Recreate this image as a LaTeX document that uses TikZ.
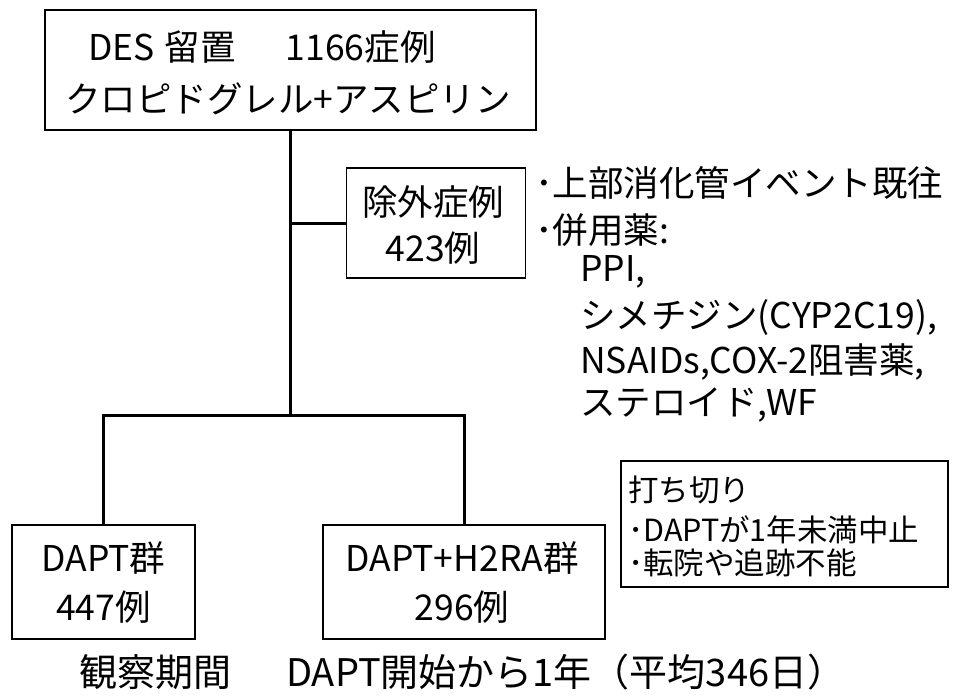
\documentclass[tikz,border=0pt]{standalone}
\usepackage{fontspec}
\setmainfont{Noto Sans CJK JP}
\begin{document}
\begin{tikzpicture}[x=1pt,y=-1pt,
  box/.style={draw,line width=1.4pt,inner sep=0pt},
  conn/.style={line width=3pt},
  txt/.style={inner sep=0pt,font=\fontsize{35.5}{40}\selectfont},
  smalltxt/.style={inner sep=0pt,font=\fontsize{30.5}{34}\selectfont},
  bigtxt/.style={inner sep=0pt,font=\fontsize{38}{44}\selectfont}]
\useasboundingbox (0,0) rectangle (953,697);
% boxes
\node[box,minimum width=491pt,minimum height=120pt] (top) at (290.5,70) {};
\node[box,minimum width=179pt,minimum height=110pt] (excl) at (436,223) {};
\node[box,minimum width=183pt,minimum height=114pt] (dapt) at (103.5,582) {};
\node[box,minimum width=282pt,minimum height=114pt] (h2ra) at (464,582) {};
\node[box,minimum width=327pt,minimum height=126pt] (cens) at (784.5,524) {};
% box texts
\node[txt] (t1) at (262,47) {DES\hspace{10pt}留置\hspace{50pt}1166症例};
\node[txt] (t2) at (288,99) {クロピドグレル+アスピリン};
\node[txt] (e1) at (433,202) {除外症例};
\node[txt] (e2) at (433,248) {423例};
\node[txt] (d1) at (103.5,558) {DAPT群};
\node[txt] (d2) at (103.5,607) {447例};
\node[txt] (h1) at (462,558) {DAPT+H2RA群};
\node[txt] (h2) at (462,607) {296例};
\node[smalltxt,anchor=west] (c1) at (628,490) {打ち切り};
\node[smalltxt,anchor=west] (c2) at (628,530) {･DAPTが1年未満中止};
\node[smalltxt,anchor=west] (c3) at (628,563) {･転院や追跡不能};
% exclusion list
\node[txt,anchor=west] (b1) at (535,183) {･上部消化管イベント既往};
\node[txt,anchor=west] (b2) at (535,230) {･併用薬:};
\node[txt,anchor=west] (b3) at (580,272) {PPI,};
\node[txt,anchor=west] (b4) at (580,317) {シメチジン(CYP2C19),};
\node[txt,anchor=west] (b5) at (580,362) {NSAIDs,COX-2阻害薬,};
\node[txt,anchor=west] (b6) at (580,405) {ステロイド,WF};
% bottom caption
\node[bigtxt,anchor=west] (o1) at (79,672) {観察期間};
\node[bigtxt,anchor=west] (o2) at (286,672) {DAPT開始から1年（平均346日）};
% connectors
\coordinate (br) at (top.south |- 0,415);
\coordinate (bl) at (dapt.north |- br);
\coordinate (brr) at (h2ra.north |- br);
\draw[conn] (top.south) -- (br);
\draw[conn] (excl.west -| top.south) -- (excl.west);
\draw[conn,line cap=rect] (bl) -- (brr);
\draw[conn] (bl) -- (dapt.north);
\draw[conn] (brr) -- (h2ra.north);
\end{tikzpicture}
\end{document}
